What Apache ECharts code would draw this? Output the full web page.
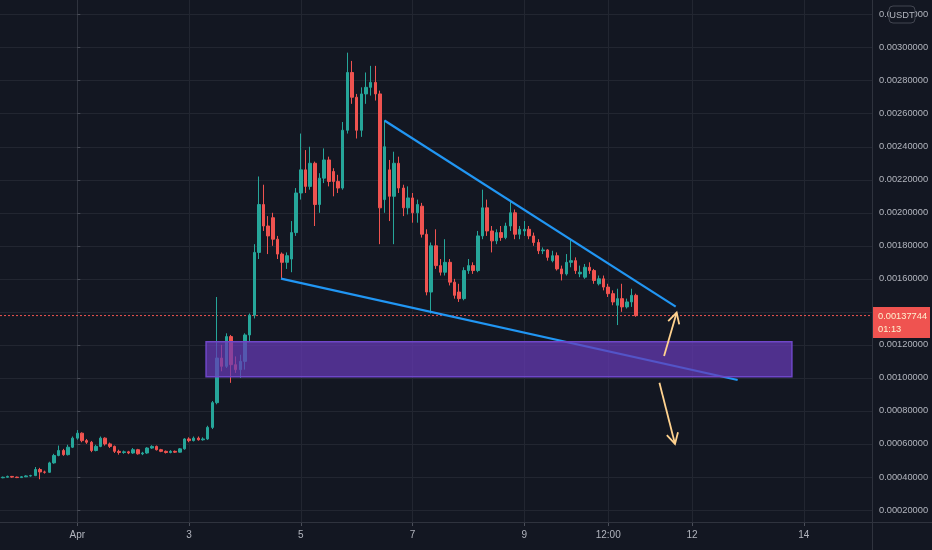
<!DOCTYPE html>
<html><head><meta charset="utf-8">
<script src="https://cdn.jsdelivr.net/npm/echarts@6/dist/echarts.min.js"></script>
<style>html,body{margin:0;padding:0;background:#131722;}#c{width:932px;height:550px;}</style>
</head><body><div id="c"></div>
<script>
// ---- data (prices in units of 1e-5 USDT, time in hours from Apr 1 00:00) ----
const UNIT = 1e-5;
const firstCandleHour = -32;
const candleStepHours = 2;
// [open, close, low, high]
const ohlc = [
 [39.5,39.8,39.2,40.2],[39.8,40.3,39.6,40.8],[40.3,39.9,39.5,40.6],[39.9,39.6,39.3,40.2],
 [39.6,40.1,39.4,40.5],[40.1,40.6,39.9,41.0],[40.6,40.8,40.2,41.3],[40.8,44.5,40.5,46.0],
 [44.5,43.0,38.6,45.5],[43.0,42.8,42.0,43.8],[42.8,48.5,42.5,49.2],[48.5,53.0,48.0,54.0],
 [53.0,56.0,52.5,59.0],[56.0,53.5,52.8,57.0],[53.5,58.0,53.0,59.5],[58.0,63.5,57.5,64.5],
 [63.5,66.5,62.5,68.4],[66.5,62.0,61.0,67.0],[62.0,61.0,60.0,63.0],[61.0,56.0,55.0,61.8],
 [56.0,58.5,55.5,59.5],[58.5,63.5,58.0,64.5],[63.5,60.0,59.0,64.0],[60.0,58.5,57.5,60.8],
 [58.5,55.5,54.5,59.0],[55.5,54.8,53.5,56.5],[54.8,55.2,54.0,56.0],[55.2,54.5,53.8,55.8],
 [54.5,56.5,54.0,57.5],[56.5,54.0,53.5,57.0],[54.0,54.5,53.2,55.2],[54.5,57.5,54.0,58.0],
 [57.5,58.5,57.0,59.2],[58.5,56.5,56.0,59.0],[56.5,55.5,55.0,57.0],[55.5,54.8,54.2,56.0],
 [54.8,55.5,54.3,56.2],[55.5,55.0,54.5,56.0],[55.0,57.0,54.8,57.5],[57.0,63.0,56.5,63.5],
 [63.0,62.0,61.0,64.0],[62.0,63.5,61.5,64.5],[63.5,62.5,62.0,64.5],[62.5,63.0,62.0,64.0],
 [63.0,70.0,62.5,71.0],[70.0,85.0,69.0,86.0],[85,112,84,149],[112,107,104,120],
 [107,125,106,127],[125,108,97,126],[108,105,103,113],[105,110,100,114],
 [110,126,105,127],[126,138,122,139],[138,176,136,181],[176,205,172,222],
 [205,192,189,217],[192,186,175,198],[197,184,180,200],[184,175,172,186],
 [175,170,160,176],[170,174,166,176],[172,188,164,195],[188,212,186,215],
 [212,226,208,248],[226,216,212,238],[216,230,214,240],[230,205,192,231],
 [205,221,200,224],[221,232,218,239],[232,219,216,234],[225,219,210,227],
 [219,215,212,223],[215,250,214,255],[250,285,248,297],[285,270,266,292],
 [270,250,245,272],[250,272,246,276],[272,276,266,285],[276,279,271,289],
 [279,272,268,289],[272,203,181,274],[208,240,200,256],[226,210,195,232],
 [210,230,181,237],[230,215,212,234],[215,203,198,217],[203,209,199,216],
 [209,200,194,212],[200,205,194,208],[204,187,185,206],[187,152,150,190],
 [152,180,139,182],[180,168,166,190],[168,164,162,172],[164,170,162,184],
 [170,158,156,172],[158,150,148,160],[152,148,146,157],[148,165,147,167],
 [165,168,163,172],[168,165,163,170],[165,186,164,189],[186,203,184,214],
 [203,189,186,208],[189,183,176,192],[183,188,181,190],[188,185,183,192],
 [185,192,184,194],[192,200,189,207],[200,187,184,202],[187,190,184,192],
 [189,190,186,195],[190,186,184,192],[186,182,180,188],[182,177,175,184],
 [177,177.5,175,179],[177.5,173,171,178],[171,174,170,177],[174,166,165,176],
 [166,163,159,168],[163,170,162,175],[170,171,167,183.5],[171,165,163,173],
 [163,164,161,168],[161,167,160,169],[167,165,163,170],[165,159,157,166],
 [157,160,156,162],[160,155,153,162],[155,151,149,157],[151,146,144,153],
 [144,148,132,154],[148,143,140,157],[143,146,142,148],[146,150,143,154],
 [150,137.744,137,151]
];
const lastPrice = 137.744;
const countdown = '01:13';
const xTickHours = [0, 48, 96, 144, 192, 228, 264, 312];
const xTickLabels = ['Apr', '3', '5', '7', '9', '12:00', '12', '14'];
const yTickUnits = [20, 40, 60, 80, 100, 120, 140, 160, 180, 200, 220, 240, 260, 280, 300, 320];
const xRange = [-33.2, 341.3];
const yRange = [12.7, 328.9];
// drawings: [hour, price] pairs
const upperTrend = [[131.9, 255.9], [257.0, 143.2]];
const lowerTrend = [[87.5, 160.1], [283.6, 98.7]];
const zoneBox = [[55.3, 121.9, 306.9, 100.7]];
const arrows = [[252.0, 113.3, 257.4, 139.5], [250.0, 97.1, 256.7, 60.0]];

// ---- build ----
const FONT = "'Liberation Sans', Arial, sans-serif";
const UP = '#26a69a', DOWN = '#ef5350';
const candleData = ohlc.map((r, i) => [firstCandleHour + i * candleStepHours, r[0]*UNIT, r[1]*UNIT, r[2]*UNIT, r[3]*UNIT]);
const yTickValues = yTickUnits.map(v => +(v*UNIT).toFixed(8));
const sc = p => [p[0], p[1]*UNIT];

const chart = echarts.init(document.getElementById('c'));
chart.setOption({
  animation: false,
  backgroundColor: '#131722',
  grid: { left: 0, right: 60, top: 0, bottom: 28, containLabel: false, outerBoundsMode: 'none' },
  xAxis: {
    type: 'value', min: xRange[0], max: xRange[1],
    axisLine: { show: true, lineStyle: { color: '#2f333e' } },
    axisTick: { show: true, length: 4, customValues: xTickHours, lineStyle: { color: '#4a4e59' } },
    axisLabel: { customValues: xTickHours, color: '#b2b5be', fontSize: 10, fontFamily: FONT, margin: 8,
      formatter: v => { const i = xTickHours.indexOf(Math.round(v)); return i >= 0 ? xTickLabels[i] : ''; } },
    splitLine: { show: true, lineStyle: { color: '#222631' } }
  },
  yAxis: {
    type: 'value', position: 'right', min: yRange[0]*UNIT, max: yRange[1]*UNIT,
    axisLine: { show: true, lineStyle: { color: '#2f333e' } },
    axisTick: { show: true, length: 3, customValues: yTickValues, lineStyle: { color: '#4a4e59' } },
    axisLabel: { customValues: yTickValues, color: '#b2b5be', fontSize: 9.3, fontFamily: FONT, margin: 7,
      formatter: v => v.toFixed(8) },
    splitLine: { show: true, lineStyle: { color: '#222631' } }
  },
  series: [
    {
      type: 'candlestick', data: candleData, encode: { x: 0, y: [1, 2, 3, 4] }, barWidth: 3, z: 2,
      itemStyle: { color: UP, color0: DOWN, borderColor: UP, borderColor0: DOWN, borderWidth: 1 }
    },
    { type: 'line', data: [[xRange[0], lastPrice*UNIT], [xRange[1], lastPrice*UNIT]], symbol: 'none', z: 1, silent: true,
      lineStyle: { color: DOWN, width: 1, type: [2, 2] } },
    { type: 'line', data: upperTrend.map(sc), symbol: 'none', z: 3, lineStyle: { color: '#2196f3', width: 2.2 } },
    { type: 'line', data: lowerTrend.map(sc), symbol: 'none', z: 3, lineStyle: { color: '#2196f3', width: 2.2 } },
    {
      type: 'custom', z: 4, data: zoneBox.map(b => [b[0], b[1]*UNIT, b[2], b[3]*UNIT]),
      encode: { x: [0, 2], y: [1, 3] },
      renderItem: (params, api) => {
        const p1 = api.coord([api.value(0), api.value(1)]);
        const p2 = api.coord([api.value(2), api.value(3)]);
        return { type: 'rect', shape: { x: p1[0], y: p1[1], width: p2[0]-p1[0], height: p2[1]-p1[1] },
          style: { fill: 'rgba(103,58,183,0.72)', stroke: '#6f47c8', lineWidth: 1.5 } };
      }
    },
    {
      type: 'custom', z: 5, data: arrows.map(a => [a[0], a[1]*UNIT, a[2], a[3]*UNIT]),
      encode: { x: [0, 2], y: [1, 3] },
      renderItem: (params, api) => {
        const a = api.coord([api.value(0), api.value(1)]);
        const b = api.coord([api.value(2), api.value(3)]);
        const ang = Math.atan2(b[1]-a[1], b[0]-a[0]);
        const L = 12, s = 0.5;
        const h1 = [b[0]-L*Math.cos(ang-s), b[1]-L*Math.sin(ang-s)];
        const h2 = [b[0]-L*Math.cos(ang+s), b[1]-L*Math.sin(ang+s)];
        const st = { stroke: '#ffd28f', lineWidth: 1.8, fill: null };
        return { type: 'group', children: [
          { type: 'line', shape: { x1: a[0], y1: a[1], x2: b[0], y2: b[1] }, style: st },
          { type: 'polyline', shape: { points: [h1, b, h2] }, style: st }
        ] };
      }
    }
  ]
});

const py = chart.convertToPixel({ yAxisIndex: 0 }, lastPrice*UNIT);
const gx = chart.convertToPixel({ xAxisIndex: 0 }, xRange[1]);
chart.setOption({
  graphic: [
    { type: 'line', z: 50, shape: { x1: gx + 0.5, y1: 0, x2: gx + 0.5, y2: 550 }, style: { stroke: '#2f333e', lineWidth: 1 } },
    { type: 'line', z: 50, shape: { x1: 0, y1: 522.5, x2: 932, y2: 522.5 }, style: { stroke: '#2f333e', lineWidth: 1 } },
    { type: 'rect', z: 60, shape: { x: gx + 1, y: py - 8.5, width: 57, height: 31 }, style: { fill: '#ef5350' } },
    { type: 'text', z: 61, x: gx + 6, y: py + 0.5, style: { text: (lastPrice*UNIT).toFixed(8), fill: '#fdf1cf', font: "9.3px " + FONT, verticalAlign: 'middle' } },
    { type: 'text', z: 61, x: gx + 6, y: py + 14, style: { text: countdown, fill: '#fdf1cf', font: "9.3px " + FONT, verticalAlign: 'middle' } },
    { type: 'rect', z: 60, shape: { x: 889, y: 6, width: 26, height: 17, r: 4 }, style: { fill: '#131722', stroke: '#434651', lineWidth: 1 } },
    { type: 'text', z: 61, x: 902, y: 15, style: { text: 'USDT', fill: '#b2b5be', font: "9.3px " + FONT, align: 'center', verticalAlign: 'middle' } }
  ]
});
</script>
</body></html>
